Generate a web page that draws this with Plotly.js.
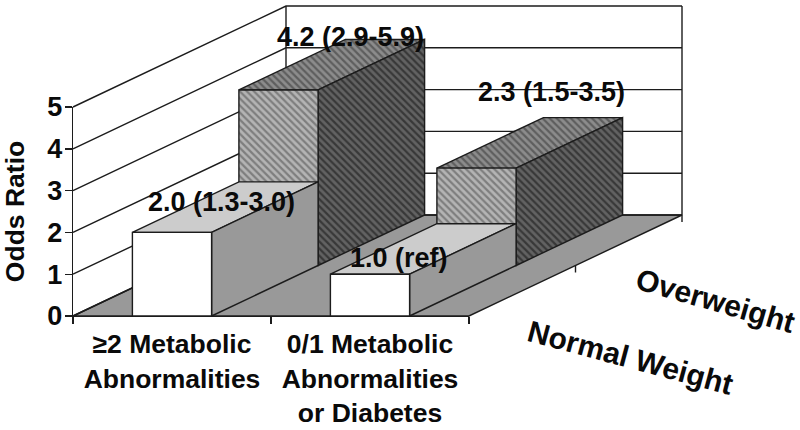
<!DOCTYPE html>
<html>
<head>
<meta charset="utf-8">
<script src="https://cdn.plot.ly/plotly-3.0.1.min.js"></script>
<style>html,body{margin:0;padding:0;background:#fff}#chart{width:800px;height:430px}</style>
</head>
<body>
<div id="chart"></div>
<script>
// ---- data ----
const categories = ['≥2 Metabolic<br>Abnormalities', '0/1 Metabolic<br>Abnormalities<br>or Diabetes'];
const seriesNames = ['Normal Weight', 'Overweight'];
const normalWeight = [2.0, 1.0];
const overweight = [4.2, 2.33];
const normalLabels = ['2.0 (1.3-3.0)', '1.0 (ref)'];
const overweightLabels = ['4.2 (2.9-5.9)', '2.3 (1.5-3.5)'];
const yTicks = [0, 1, 2, 3, 4, 5];

// ---- projection (oblique 3D drawn in axis units) ----
const W = 800, H = 430;
const X0 = 73, Y0 = 316;                  // pixel of category 0 / value 0
const PX_X = 198, PX_Y = 41.8;            // pixels per axis unit
const DEPTH_X = 213 / PX_X, DEPTH_Y = 101 / PX_Y;
const BAR_HALF = 0.2;
const P = (x, v, d) => [x + d * DEPTH_X, v + d * DEPTH_Y];

const INK = '#1c1c1c';
const FONT = 'Liberation Sans';
const xMax = categories.length, yMax = yTicks[yTicks.length - 1];

// an empty trace keeps the visible front-plane axes alive
const traces = [{ type: 'scatter', mode: 'none', x: [0, xMax], y: [0, yMax], xaxis: 'x', yaxis: 'y', hoverinfo: 'skip', showlegend: false }];
function poly(points, style) {
  const pts = points.concat([points[0]]);
  traces.push(Object.assign({
    type: 'scatter', mode: 'lines', xaxis: 'x2', yaxis: 'y2', x: pts.map(p => p[0]), y: pts.map(p => p[1]),
    line: { color: INK, width: 1.4 }, fill: 'toself', hoverinfo: 'skip', showlegend: false
  }, style));
}
function line(points) {
  traces.push({ type: 'scatter', mode: 'lines', xaxis: 'x2', yaxis: 'y2', x: points.map(p => p[0]), y: points.map(p => p[1]),
    line: { color: INK, width: 1.4 }, hoverinfo: 'skip', showlegend: false });
}
const hatch = (bg, fg) => ({ fillcolor: bg, fillpattern: { shape: '\\', bgcolor: bg, fgcolor: fg, size: 5, solidity: 0.45 } });

// floor
poly([P(0,0,0), P(xMax,0,0), P(xMax,0,1), P(0,0,1)], { fillcolor: '#999999' });
// walls and gridlines
yTicks.forEach(v => line([P(0,v,0), P(0,v,1), P(xMax,v,1)]));
line([P(0,0,1), P(0,yMax,1)]);
const tickDrop = 7 / PX_Y;
line([P(xMax,-tickDrop,1), P(xMax,yMax,1)]);
// depth tick mark between the two series on the right edge
line([P(xMax,0,0.5), P(xMax,-tickDrop,0.5)]);

function bar(i, value, d0, d1, styles) {
  const c = i + 0.5, l = c - BAR_HALF, r = c + BAR_HALF;
  poly([P(l,value,d0), P(r,value,d0), P(r,value,d1), P(l,value,d1)], styles.top);
  poly([P(r,0,d0), P(r,0,d1), P(r,value,d1), P(r,value,d0)], styles.side);
  poly([P(l,0,d0), P(r,0,d0), P(r,value,d0), P(l,value,d0)], styles.front);
}
const overStyle = { front: hatch('#b4b4b4', '#7e7e7e'), top: hatch('#8c8c8c', '#5e5e5e'), side: hatch('#626262', '#383838') };
const normStyle = { front: { fillcolor: '#ffffff' }, top: { fillcolor: '#cccccc' }, side: { fillcolor: '#999999' } };
overweight.forEach((v, i) => bar(i, v, 0.5, 1, overStyle));
normalWeight.forEach((v, i) => bar(i, v, 0, 0.5, normStyle));

// ---- text placement in axis units ----
const boldFont = size => ({ family: FONT, size, color: '#0a0a0a', weight: 'bold' });
const ux = px => (px - X0) / PX_X, uy = py => (Y0 - py) / PX_Y;
const note = (text, px, py, size, angle) => ({ text, x: ux(px), y: uy(py), xref: 'x2', yref: 'y2', showarrow: false,
  font: boldFont(size), textangle: angle || 0, xanchor: 'center', yanchor: 'middle' });
const annotations = [
  note(normalLabels[0], 221.5, 202, 27), note(normalLabels[1], 399, 258, 27),
  note(overweightLabels[0], 350.5, 37, 27), note(overweightLabels[1], 551.5, 92, 27),
  note(seriesNames[1], 715, 300, 30, 16), note(seriesNames[0], 630, 357, 30, 15)
];

const layout = {
  width: W, height: H, paper_bgcolor: '#fff', plot_bgcolor: 'rgba(0,0,0,0)', showlegend: false,
  margin: { l: 0, r: 0, t: 0, b: 0, pad: 0 },
  xaxis: { domain: [X0 / W, (X0 + xMax * PX_X) / W], anchor: 'y', range: [0, xMax], tickmode: 'array',
    tickvals: categories.map((c, i) => i + 0.5), ticktext: categories,
    ticks: '', tickangle: 0, showgrid: false, zeroline: false, showline: true, linecolor: INK, linewidth: 1.4,
    ticklabelstandoff: 4, tickfont: boldFont(26.5), fixedrange: true,
    minor: { tickmode: 'array', tickvals: [0, 1, 2], ticks: 'outside', ticklen: 7, tickwidth: 1.4, tickcolor: INK, showgrid: false } },
  yaxis: { domain: [(H - Y0) / H, (H - Y0 + yMax * PX_Y) / H], anchor: 'x', range: [0, yMax], tickmode: 'array', tickvals: yTicks,
    ticks: 'outside', ticklen: 7, tickwidth: 1.4, tickcolor: INK, ticklabelstandoff: -3,
    showgrid: false, zeroline: false, showline: true, linecolor: INK, linewidth: 1.4, tickfont: boldFont(27), fixedrange: true,
    title: { text: 'Odds Ratio', font: boldFont(26.5), standoff: 17 } },
  // full-page axes in the same units carry the projected marks
  xaxis2: { domain: [0, 1], anchor: 'y2', range: [-X0 / PX_X, (W - X0) / PX_X], visible: false, fixedrange: true },
  yaxis2: { domain: [0, 1], anchor: 'x2', range: [-(H - Y0) / PX_Y, Y0 / PX_Y], visible: false, fixedrange: true },
  annotations
};
Plotly.newPlot('chart', traces, layout, { displayModeBar: false, staticPlot: true });
</script>
</body>
</html>
